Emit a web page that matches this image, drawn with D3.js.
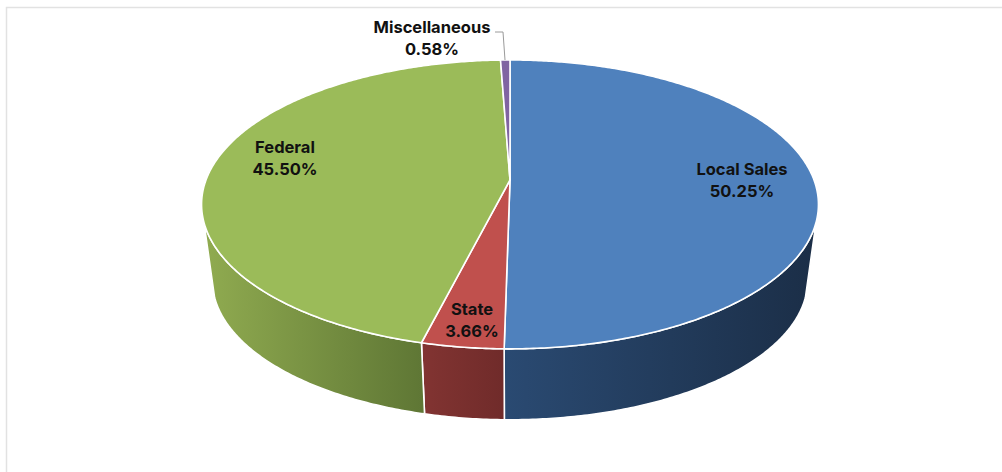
<!DOCTYPE html>
<html><head><meta charset="utf-8">
<script src="https://cdn.jsdelivr.net/npm/d3@7/dist/d3.min.js"></script>
<style>html,body{margin:0;padding:0;background:#fff}svg{display:block}
text{font-family:Inter,Lato,sans-serif;font-weight:700;font-size:16.5px;fill:#111;text-anchor:middle}</style>
</head><body><svg id="c" width="1002" height="472"></svg>
<script>
const categories=["Local Sales","State","Federal","Miscellaneous"];
const shares=[50.25,3.66,45.50,0.58];
const topColors=["#4f81bd","#c0504d","#9bbb59","#8064a2"];
const sideLight=["#2a4a72","#823432","#90ab50","#5d3f80"];
const sideDark=["#1b2e47","#702b2a","#5f7735","#4a3366"];
const labelPos=[[742,175],[472,315],[285,153],[432,33]];

const W=1002,H=472,svg=d3.select("#c");
svg.append("rect").attr("x",6.5).attr("y",7.5).attr("width",W).attr("height",H).attr("fill","#fff").attr("stroke","#e2e2e2").attr("stroke-width",1.5);

const cx=510,cy=180,A=304,B=140.3,p=0.169;
const ellipseY=204.5,baseScale=0.965,baseY=280.5;
const pie=d3.pie().sort(null).value(d=>d);
const arcs=pie(shares);
const proj=a=>{const u=Math.sin(a),v=Math.cos(a),w=1+p*v;return [cx+A*u/w,cy-B*v/w];};
const projBase=a=>{const [x,y]=proj(a);return [cx+baseScale*(x-cx),baseY+baseScale*(y-ellipseY)];};
const line=d3.line();
const angleSteps=(a0,a1)=>{const n=Math.max(2,Math.ceil((a1-a0)/0.01));return d3.range(n+1).map(i=>a0+(a1-a0)*i/n);};

const defs=svg.append("defs");
const tau=2*Math.PI;
// side walls begin where the top rim meets the tapering silhouette
const rightLimit=tau*106.6/360, leftLimit=tau*253.4/360;
const sides=[];
arcs.forEach((d,i)=>{
  const a0=Math.max(d.startAngle,rightLimit),a1=Math.min(d.endAngle,leftLimit);
  if(a1>a0)sides.push({i,a0,a1});
});
sides.forEach(s=>{
  const x0=proj(s.a1)[0],x1=proj(s.a0)[0];
  const g=defs.append("linearGradient").attr("id","g"+s.i).attr("gradientUnits","userSpaceOnUse")
    .attr("x1",x0).attr("x2",x1).attr("y1",0).attr("y2",0);
  g.append("stop").attr("offset",0).attr("stop-color",sideLight[s.i]);
  g.append("stop").attr("offset",1).attr("stop-color",sideDark[s.i]);
  const as=angleSteps(s.a0,s.a1);
  const pts=as.map(proj).concat(as.slice().reverse().map(projBase));
  svg.append("path").attr("d",line(pts)+"Z").attr("fill",`url(#g${s.i})`)
    .attr("stroke","#fff").attr("stroke-width",1.6).attr("stroke-linejoin","round");
});
arcs.forEach((d,i)=>{
  const pts=[[cx,cy]].concat(angleSteps(d.startAngle,d.endAngle).map(proj));
  svg.append("path").attr("d",line(pts)+"Z").attr("fill",topColors[i])
    .attr("stroke","#fff").attr("stroke-width",1.6).attr("stroke-linejoin","round");
});
// leader line for the small slice
const m=proj((arcs[3].startAngle+arcs[3].endAngle)/2);
svg.append("path").attr("d",line([[495,32],[503,32],[505,m[1]]])).attr("fill","none").attr("stroke","#9a9a9a").attr("stroke-width",1);

categories.forEach((c,i)=>{
  const t=svg.append("text").attr("x",labelPos[i][0]).attr("y",labelPos[i][1]);
  t.append("tspan").attr("x",labelPos[i][0]).text(c);
  t.append("tspan").attr("x",labelPos[i][0]).attr("dy",22).text(shares[i].toFixed(2)+"%");
});
</script></body></html>
